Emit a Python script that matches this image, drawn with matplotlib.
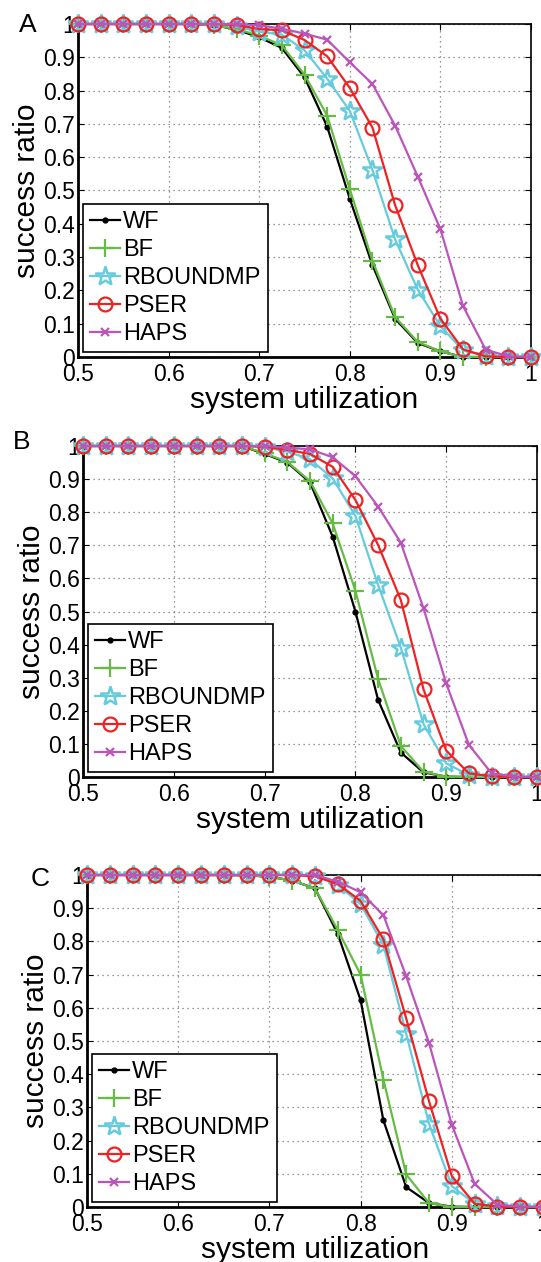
import matplotlib
matplotlib.use("Agg")
import matplotlib.pyplot as plt
import numpy as np

plt.rcParams['font.family'] = ['Liberation Sans', 'DejaVu Sans']

# system utilization, 0.5 .. 1.0
util = [0.5, 0.525, 0.55, 0.575, 0.6, 0.625, 0.65, 0.675, 0.7, 0.725, 0.75,
        0.775, 0.8, 0.825, 0.85, 0.875, 0.9, 0.925, 0.95, 0.975, 1.0]

# panel A
wf_a = [1, 1, 1, 1, 1, 1, 0.997, 0.983, 0.96, 0.928, 0.84, 0.692, 0.475, 0.276, 0.115, 0.042, 0.017, 0, 0, 0, 0]
bf_a = [1, 1, 1, 1, 1, 1, 0.996, 0.985, 0.965, 0.936, 0.848, 0.725, 0.504, 0.289, 0.12, 0.045, 0.017, 0, 0, 0, 0]
rb_a = [1, 1, 1, 1, 1, 1, 1, 0.993, 0.977, 0.968, 0.921, 0.836, 0.739, 0.562, 0.353, 0.202, 0.093, 0.02, 0.003, 0, 0]
ps_a = [1, 1, 1, 1, 1, 1, 1, 0.997, 0.985, 0.981, 0.952, 0.903, 0.808, 0.689, 0.456, 0.276, 0.115, 0.023, 0.002, 0, 0]
ha_a = [1, 1, 1, 1, 1, 1, 1, 1, 0.996, 0.986, 0.971, 0.953, 0.885, 0.82, 0.695, 0.542, 0.384, 0.153, 0.022, 0.002, 0]

# panel B
wf_b = [1, 1, 1, 1, 1, 1, 1, 1, 0.976, 0.95, 0.89, 0.726, 0.5, 0.233, 0.074, 0.014, 0.001, 0, 0, 0, 0]
bf_b = [1, 1, 1, 1, 1, 1, 1, 1, 0.978, 0.952, 0.894, 0.766, 0.563, 0.296, 0.094, 0.016, 0.001, 0, 0, 0, 0]
rb_b = [1, 1, 1, 1, 1, 1, 1, 1, 0.997, 0.983, 0.96, 0.902, 0.789, 0.58, 0.391, 0.16, 0.041, 0.006, 0.001, 0, 0]
ps_b = [1, 1, 1, 1, 1, 1, 1, 1, 0.998, 0.988, 0.976, 0.937, 0.837, 0.701, 0.535, 0.265, 0.08, 0.011, 0.002, 0, 0]
ha_b = [1, 1, 1, 1, 1, 1, 1, 1, 1, 0.995, 0.99, 0.966, 0.909, 0.817, 0.708, 0.51, 0.283, 0.097, 0.011, 0.001, 0]

# panel C
wf_c = [1, 1, 1, 1, 1, 1, 1, 0.999, 0.995, 0.983, 0.96, 0.822, 0.623, 0.261, 0.06, 0.012, 0.001, 0, 0, 0, 0]
bf_c = [1, 1, 1, 1, 1, 1, 1, 0.999, 0.995, 0.983, 0.96, 0.834, 0.70, 0.384, 0.098, 0.012, 0.0, 0, 0, 0, 0]
rb_c = [1, 1, 1, 1, 1, 1, 1, 1, 1, 1, 0.998, 0.97, 0.912, 0.789, 0.522, 0.251, 0.063, 0.01, 0.002, 0, 0]
ps_c = [1, 1, 1, 1, 1, 1, 1, 1, 1, 1, 0.996, 0.973, 0.922, 0.806, 0.568, 0.319, 0.093, 0.01, 0.001, 0, 0]
ha_c = [1, 1, 1, 1, 1, 1, 1, 1, 1, 1, 1, 0.98, 0.948, 0.879, 0.695, 0.494, 0.248, 0.07, 0.007, 0.001, 0]

names = ['WF', 'BF', 'RBOUNDMP', 'PSER', 'HAPS']
panels = [('A', [wf_a, bf_a, rb_a, ps_a, ha_a]),
          ('B', [wf_b, bf_b, rb_b, ps_b, ha_b]),
          ('C', [wf_c, bf_c, rb_c, ps_c, ha_c])]

styles = [
    dict(color='black', marker='o', ms=3.5, mfc='black', mec='black'),
    dict(color='#66bb44', marker='+', ms=13, mew=1.6),
    dict(color='#66ccdd', marker='*', ms=15, mfc='none', mew=1.8),
    dict(color='#ee2222', marker='o', ms=10, mfc='none', mew=1.6),
    dict(color='#bb55bb', marker='x', ms=5.5, mew=1.6),
]

W, H = 541, 1262
# axes boxes in pixels: left, right, top, bottom
boxes = [(78, 531, 24, 357), (83, 537, 446, 777), (87, 543, 875, 1207)]
letters_xy = [(28, 25), (22, 442), (40, 879)]

fig = plt.figure(figsize=(W / 100, H / 100), dpi=100)

for (letter, series), (l, r, t, b), (lx, ly) in zip(panels, boxes, letters_xy):
    ax = fig.add_axes([l / W, 1 - b / H, (r - l) / W, (b - t) / H])
    for name, vals, st in zip(names, series, styles):
        ax.plot(util, vals, lw=1.6, label=name, clip_on=False, zorder=3, **st)
    ax.set_xlim(0.5, 1.0)
    ax.set_ylim(0, 1)
    ax.set_xticks(np.arange(0.5, 1.01, 0.1))
    ax.set_xticklabels(['0.5', '0.6', '0.7', '0.8', '0.9', '1'])
    ax.set_yticks(np.arange(0, 1.01, 0.1))
    ax.set_yticklabels(['0', '0.1', '0.2', '0.3', '0.4', '0.5', '0.6', '0.7', '0.8', '0.9', '1'])
    ax.tick_params(direction='in', length=4, labelsize=16.5, top=True, right=True, pad=2)
    ax.tick_params(axis='x', pad=4)
    ax.grid(True, linestyle=(0, (1, 3)), color='#777777', lw=0.9)
    for s in ax.spines.values():
        s.set_linewidth(1.2)
    ax.spines['left'].set_linewidth(2)
    ax.spines['bottom'].set_linewidth(2)
    ax.set_xlabel('system utilization', fontsize=21.5, labelpad=0)
    ax.set_ylabel('success ratio', fontsize=21.5, labelpad=2)
    leg = ax.legend(loc='lower left', bbox_to_anchor=(0.011, 0.015), borderaxespad=0,
                    fontsize=17, fancybox=False, edgecolor='black', framealpha=1,
                    handlelength=1.25, handletextpad=0.15, labelspacing=0.25,
                    borderpad=0.3)
    leg.get_frame().set_linewidth(1.2)
    fig.text(lx / W, 1 - ly / H, letter, fontsize=19, ha='center', va='center')

fig.savefig('out.png', dpi=100)
